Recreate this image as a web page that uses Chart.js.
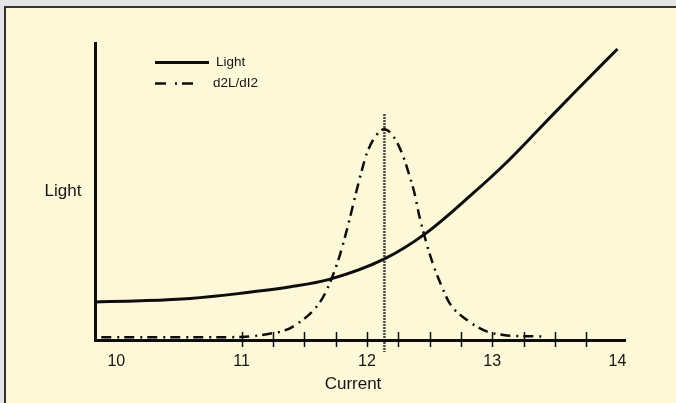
<!DOCTYPE html>
<html>
<head>
<meta charset="utf-8">
<script src="https://cdn.jsdelivr.net/npm/chart.js@4"></script>
<style>
  html, body { margin: 0; padding: 0; overflow: hidden; background: #e5e5e6; }
  #frame {
    position: absolute; left: 4px; top: 6px; width: 680px; height: 410px;
    background: #fdf9d8; border-left: 2px solid #333; border-top: 2px solid #333;
  }
  #chart { position: absolute; left: 0; top: 0; }
</style>
</head>
<body>
<div id="frame"></div>
<canvas id="chart" width="676" height="403"></canvas>
<script>
// Light vs current, with its second derivative

const xTickValues = [10, 11, 12, 13, 14];
const quarterTicks = [11, 11.25, 11.5, 11.75, 12, 12.25, 12.5, 12.75, 13, 13.25, 13.5, 13.75];

const lightCurrent = [9.83, 10.19, 10.59, 10.99, 11.39, 11.70, 12.14, 12.47, 12.85, 13.11, 13.38, 13.65, 14.0];
const lightValues  = [12.8, 13.2, 14.0, 15.7, 17.9, 20.4, 27.3, 35.9, 49.5, 59.6, 71.3, 83.1, 98.0];

const d2Current = [9.88, 10.5, 10.99, 11.09, 11.25, 11.31, 11.41, 11.62, 11.69, 11.78, 11.85, 11.91, 11.96, 12.0,
                   12.07, 12.14, 12.21, 12.28, 12.33, 12.38, 12.42, 12.51, 12.60, 12.66, 12.80, 12.96, 13.09, 13.22, 13.42];
const d2Values  = [0.9, 0.9, 1.0, 1.3, 2.3, 2.8, 4.5, 12.4, 17.8, 28.0, 38.7, 49.0, 57.2, 62.9,
                   68.6, 71.0, 68.6, 62.9, 56.7, 49.4, 41.5, 27.8, 17.8, 12.4, 6.7, 2.8, 1.7, 1.3, 1.2];

const peakCurrent = [12.14, 12.14];
const peakValues  = [76, -4];

const legendLabels = ['Light', 'd2L/dI2'];
const xTitle = 'Current';
const yTitle = 'Light';

const FONT = '"Liberation Sans", Arial, sans-serif';
const INK = '#0d0d0d';
const TEXT = '#151515';

Chart.defaults.font.family = FONT;

const toPoints = (xs, ys) => xs.map((x, i) => ({ x: x, y: ys[i] }));

// Quarter ticks, horizontal axis titles and the legend
const decorations = {
    id: 'decorations',
    afterDraw(chart) {
        const { ctx, chartArea, scales: { x } } = chart;
        ctx.save();

        ctx.strokeStyle = INK;
        ctx.lineWidth = 1.5;
        quarterTicks.forEach(v => {
            const px = Math.round(x.getPixelForValue(v)) + 0.5;
            ctx.beginPath();
            ctx.moveTo(px, chartArea.bottom - 8);
            ctx.lineTo(px, chartArea.bottom + 7);
            ctx.stroke();
        });

        ctx.fillStyle = TEXT;
        ctx.font = '17px ' + FONT;
        ctx.textAlign = 'center';
        ctx.textBaseline = 'middle';
        ctx.fillText(yTitle, chartArea.left - 32, (chartArea.top + chartArea.bottom) / 2);
        ctx.fillText(xTitle, (chartArea.left + chartArea.right) / 2 - 7, chartArea.bottom + 44);

        // legend
        const legendDash = [[], [11, 9, 2, 5]];
        const legendLen = [54, 47];
        ctx.textAlign = 'left';
        ctx.font = '13.5px ' + FONT;
        legendLabels.forEach((label, i) => {
            const ds = chart.data.datasets[i];
            const y = chartArea.top + 19.5 + i * 21;
            const x0 = chartArea.left + 60;
            ctx.strokeStyle = ds.borderColor;
            ctx.lineWidth = ds.borderWidth;
            ctx.setLineDash(legendDash[i]);
            ctx.beginPath();
            ctx.moveTo(x0, y);
            ctx.lineTo(x0 + legendLen[i], y);
            ctx.stroke();
            ctx.setLineDash([]);
            ctx.fillText(label, i === 0 ? x0 + 61 : x0 + 58, y);
        });

        ctx.restore();
    }
};

new Chart(document.getElementById('chart'), {
    type: 'line',
    data: {
        datasets: [
            {
                label: legendLabels[0],
                data: toPoints(lightCurrent, lightValues),
                borderColor: INK,
                borderWidth: 3,
                cubicInterpolationMode: 'monotone',
                pointRadius: 0
            },
            {
                label: legendLabels[1],
                data: toPoints(d2Current, d2Values),
                borderColor: INK,
                borderWidth: 2.5,
                borderDash: [10, 6, 2, 5],
                cubicInterpolationMode: 'monotone',
                pointRadius: 0
            },
            {
                label: 'peak',
                data: toPoints(peakCurrent, peakValues),
                borderColor: INK,
                borderWidth: 2.5,
                borderDash: [1.5, 1.5],
                pointRadius: 0,
                clip: false
            }
        ]
    },
    options: {
        responsive: false,
        animation: false,
        layout: { padding: { left: 95, top: 43, right: 51, bottom: 0 } },
        plugins: {
            legend: { display: false },
            tooltip: { enabled: false }
        },
        scales: {
            x: {
                type: 'linear',
                min: 9.83,
                max: 14.06,
                grid: { display: false },
                border: { display: true, color: INK, width: 3 },
                ticks: { color: TEXT, font: { size: 16 }, padding: 4, maxRotation: 0 },
                afterBuildTicks: s => { s.ticks = xTickValues.map(v => ({ value: v })); },
                afterFit: s => { s.height = 63; }
            },
            y: {
                min: 0,
                max: 100,
                grid: { display: false },
                border: { display: true, color: INK, width: 3 },
                ticks: { display: false },
                afterFit: s => { s.width = 0; }
            }
        }
    },
    plugins: [decorations]
});
</script>
</body>
</html>
